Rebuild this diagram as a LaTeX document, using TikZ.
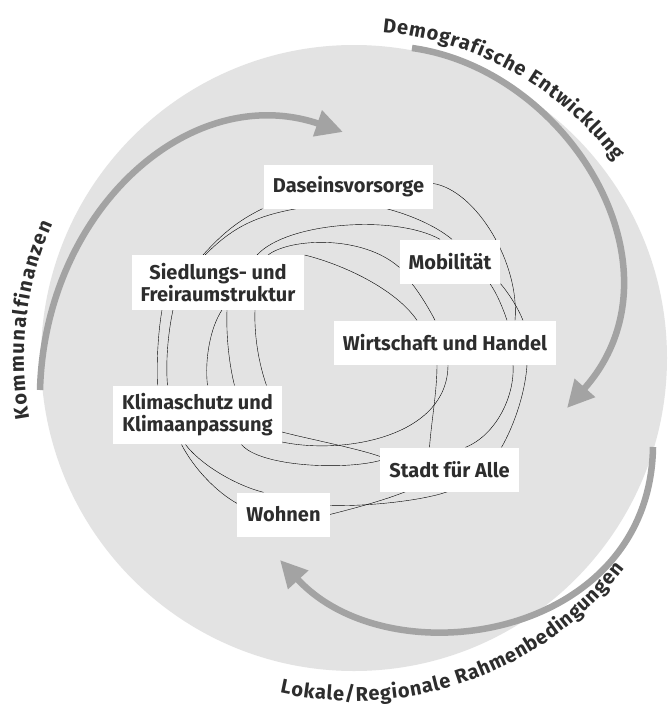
\documentclass[tikz,border=0pt]{standalone}
\usepackage{fontspec}
\setmainfont{Fira Sans}
\usepackage{tikz}
\usetikzlibrary{arrows.meta,backgrounds,decorations.text}

\definecolor{discgray}{RGB}{227,227,227}
\definecolor{arrowgray}{RGB}{163,163,163}
\definecolor{linegray}{RGB}{48,48,48}
\definecolor{labelgray}{RGB}{45,45,45}

\begin{document}
\begin{tikzpicture}[x=1pt,y=1pt,
	topic node/.style={fill=white,inner xsep=9pt,inner ysep=8pt,minimum height=44pt,align=center,text=labelgray,font=\bfseries\fontsize{20}{22}\selectfont},
	loop line/.style={linegray,line width=1.45pt},
	big arrow/.style={arrowgray,line width=6.5pt,-{Triangle[length=27pt,width=26pt]}},
	ring label/.style={decorate,decoration={text along path,text align={fit to path},text color=labelgray}}
]

	\def \cx {354}
	\def \cy {-358}
	\def \r {313}

	\useasboundingbox (0,0) rectangle (669,-707);
	\begin{scope}[on background layer]
		\fill[white] (0,0) rectangle (669,-707);
		\fill[discgray] (\cx,\cy) circle[radius=\r];
	\end{scope}

	% topics
	\node[topic node] (dasein) at (348.5,-186.5) {Daseinsvorsorge};
	\node[topic node] (mobil) at (450,-261.5) {Mobilität};
	\node[topic node] (wirt) at (445,-342.5) {Wirtschaft und Handel};
	\node[topic node] (sied) at (218,-282.5) {Siedlungs- und\\Freiraumstruktur};
	\node[topic node] (klima) at (197.5,-415) {Klimaschutz und\\Klimaanpassung};
	\node[topic node] (stadt) at (449.5,-469.5) {Stadt für Alle};
	\node[topic node] (wohnen) at (283.5,-514.5) {Wohnen};

	% tangled lines behind the topics
	\begin{scope}[on background layer,loop line]
		\draw ([xshift=-86pt]dasein.south) .. controls +(-25,-12) and +(18,20) .. ([xshift=-15pt]sied.north);
		\draw ([xshift=-52pt]dasein.south) .. controls +(-45,-8) and +(25,25) .. ([xshift=-13pt]sied.north);
		\draw ([xshift=39pt]sied.north) .. controls +(30,33) and +(-45,25) .. ([xshift=-10pt]mobil.north);
		\draw ([xshift=50pt]sied.north) .. controls +(22,17) and +(-37,33) .. ([yshift=-6pt]mobil.west);
		\draw (sied.north east) .. controls +(37,-9) and +(-22,32) .. ([xshift=-28pt]wirt.north);
		\draw ([xshift=38pt]dasein.south) .. controls +(23,-6) and +(-17,14) .. ([xshift=2pt]mobil.north);
		\draw ([xshift=-38pt]mobil.south) .. controls +(8,-10) and +(-5,10) .. ([xshift=-10pt]wirt.north);
		\draw ([yshift=3pt]dasein.east) .. controls +(43,-7) and +(5,57) .. ([xshift=70pt]wirt.north);
		\draw ([xshift=40pt]mobil.south) .. controls +(7,-10) and +(-4,12) .. ([xshift=62pt]wirt.north);
		\draw (mobil.south east) .. controls +(10,-12) and +(-5,12) .. ([xshift=78pt]wirt.north);
		\draw ([xshift=-8pt]wirt.south) .. controls +(0,-27) and +(2,27) .. ([xshift=-20pt]stadt.north);
		\draw ([xshift=3pt]wirt.south) .. controls +(0,-72) and +(62,-13) .. ([yshift=-27pt]klima.east);
		\draw ([yshift=-17pt]klima.east) .. controls +(22,-6) and +(-22,8) .. ([yshift=13pt]stadt.west);
		\draw ([xshift=44pt]klima.south) .. controls +(18,-22) and +(-37,-10) .. ([yshift=9pt]stadt.west);
		\draw ([xshift=-16pt]klima.south) .. controls +(13,-25) and +(-20,11) .. ([yshift=11pt]wohnen.west);
		\draw ([xshift=-12pt]klima.south) .. controls +(15,-20) and +(-28,7) .. ([xshift=-20pt]wohnen.north);
		\draw ([yshift=9pt]wohnen.east) .. controls +(43,-1) and +(-22,-8) .. ([xshift=-2pt]stadt.south);
		\draw (wohnen.east) .. controls +(28,7) and +(-20,-8) .. ([xshift=-44pt]stadt.south);
		\draw ([xshift=68pt]wirt.south) .. controls +(2,-32) and +(30,12) .. ([xshift=16pt]stadt.north);
		\draw ([xshift=82pt]wirt.south) .. controls +(-2,-32) and +(10,17) .. ([xshift=52pt]stadt.north);
		\draw ([xshift=-56pt]sied.south) .. controls +(-4,-23) and +(-1,23) .. ([xshift=-40pt]klima.north);
		\draw ([xshift=-45pt]sied.south) .. controls +(-5,-23) and +(-2,23) .. ([xshift=-30pt]klima.north);
		\draw ([xshift=4pt]sied.south) .. controls +(-12,-18) and +(-3,25) .. ([xshift=10pt]klima.north);
		\draw ([xshift=9pt]sied.south) .. controls +(-1,-28) and +(-5,20) .. ([xshift=37pt]klima.north);
		\draw ([xshift=37pt]sied.south) .. controls +(-1,-28) and +(-7,20) .. ([xshift=69pt]klima.north);
	\end{scope}

	% outer arrows
	\coordinate (kf-a) at (40,-390);
	\coordinate (kf-b) at (343,-132);
	\coordinate (de-a) at (412,-48);
	\coordinate (de-b) at (567,-408);
	\coordinate (lr-a) at (653,-447);
	\coordinate (lr-b) at (280,-560);
	\draw[big arrow] (kf-a) .. controls (45,-210) and (190,-80) .. (kf-b);
	\draw[big arrow] (de-a) .. controls (570,-70) and (690,-270) .. (de-b);
	\draw[big arrow] (lr-a) .. controls (650,-640) and (390,-680) .. (lr-b);

	% ring labels
	\path[ring label,decoration={text={|\bfseries\fontsize{20}{20}\selectfont|Demografische Entwicklung}}]
		([shift={(\cx,\cy)}]85:327) arc[start angle=85,end angle=37,radius=327];
	\path[ring label,decoration={text={|\bfseries\fontsize{20}{20}\selectfont|Kommunalfinanzen}}]
		([shift={(\cx,\cy)}]190.5:330) arc[start angle=190.5,end angle=156,radius=330];
	\path[ring label,decoration={text={|\bfseries\fontsize{20}{20}\selectfont|Lokale/Regionale Rahmenbedingungen}}]
		([shift={(\cx,\cy)}]257.5:343) arc[start angle=257.5,end angle=322,radius=343];
\end{tikzpicture}
\end{document}
